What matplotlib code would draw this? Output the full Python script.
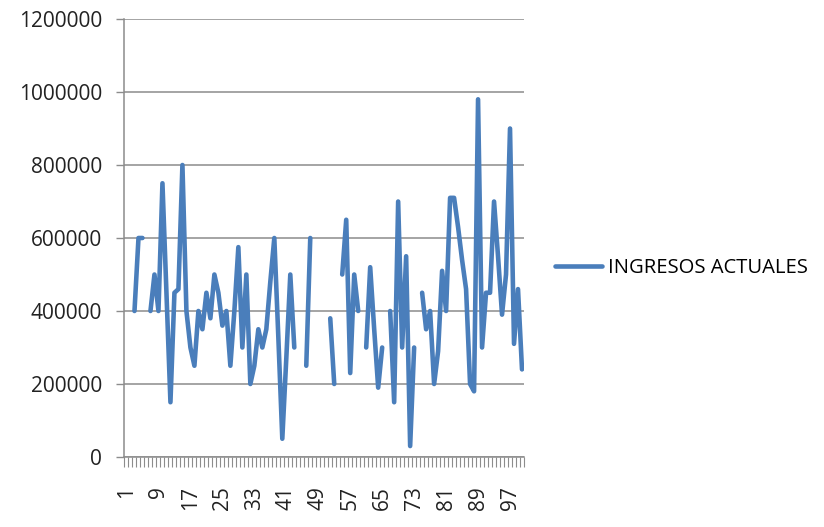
import numpy as np
import matplotlib
matplotlib.use('Agg')
import matplotlib.pyplot as plt
from matplotlib.ticker import MultipleLocator, FixedLocator, FuncFormatter

plt.rcParams['font.family'] = ['Open Sans', 'DejaVu Sans']

# category positions 1..100, None = no data (gaps in the line)
categories = list(range(1, 101))
ingresos = [
    None, None, 400000, 600000, 600000, None, 400000, 500000, 400000, 750000,
    450000, 150000, 450000, 460000, 800000, 400000, 300000, 250000, 400000, 350000,
    450000, 380000, 500000, 450000, 360000, 400000, 250000, 400000, 575000, 300000,
    500000, 200000, 250000, 350000, 300000, 350000, 480000, 600000, 330000, 50000,
    270000, 500000, 300000, None, None, 250000, 600000, None, None, None,
    None, 380000, 200000, None, 500000, 650000, 230000, 500000, 400000, None,
    300000, 520000, 350000, 190000, 300000, None, 400000, 150000, 700000, 300000,
    550000, 30000, 300000, None, 450000, 350000, 400000, 200000, 290000, 510000,
    400000, 710000, 710000, 630000, 540000, 460000, 200000, 180000, 980000, 300000,
    450000, 450000, 700000, 550000, 390000, 500000, 900000, 310000, 460000, 240000,
]
label_cats = list(range(1, 101, 8))
series_name = "INGRESOS ACTUALES"

W, H = 824, 527
fig = plt.figure(figsize=(W / 100, H / 100), dpi=100)
ax = fig.add_axes([124.5 / W, 1 - 457 / H, (524 - 124.5) / W, (457 - 19) / H])

y = np.array([np.nan if v is None else v for v in ingresos], dtype=float)
ax.plot(categories, y, color='#4a7ebb', lw=3.3, solid_capstyle='round',
        solid_joinstyle='round', label=series_name)

grid_c = '#8c8c8c'
ax.set_xlim(0.5, 100.5)
ax.set_ylim(0, 1200000)
ax.yaxis.set_major_locator(MultipleLocator(200000))
ax.yaxis.set_major_formatter(FuncFormatter(lambda v, p: f"{int(round(v))}"))
ax.yaxis.grid(True, color=grid_c, lw=1.1)
ax.set_axisbelow(True)

for s in ['top', 'right']:
    ax.spines[s].set_visible(False)
for s in ['left', 'bottom']:
    ax.spines[s].set_color(grid_c)
    ax.spines[s].set_linewidth(1.1)

ax.xaxis.set_major_locator(FixedLocator(label_cats))
ax.set_xticklabels([str(c) for c in label_cats], rotation=90)
ax.xaxis.set_minor_locator(FixedLocator(np.arange(0.5, 101, 1)))
ax.tick_params(axis='x', which='major', length=0, pad=21, labelsize=15, labelcolor='#222222')
ax.tick_params(axis='x', which='minor', length=7, width=0.8, color=grid_c, direction='out')
ax.tick_params(axis='y', length=6, width=1, color=grid_c, pad=10, labelsize=15, labelcolor='#222222')

fig.legend(loc='center left', bbox_to_anchor=(555 / W, 1 - 268 / H), frameon=False,
           fontsize=14.6, handlelength=2.3, handletextpad=0.3, borderpad=0, borderaxespad=0)

fig.savefig('out.png', dpi=100)
